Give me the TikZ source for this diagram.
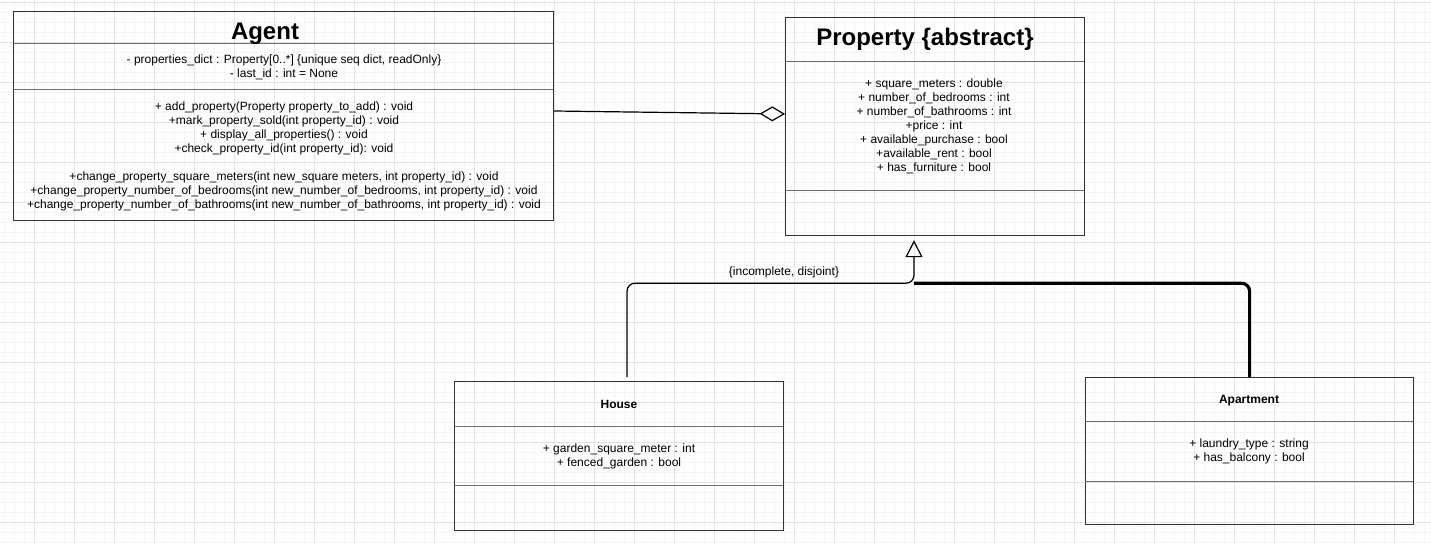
\documentclass[tikz,border=0pt]{standalone}
\usepackage{fontspec}
\setmainfont{Liberation Sans}
\usetikzlibrary{arrows.meta,calc}
\definecolor{gmaj}{HTML}{E3E3E3}
\definecolor{gmin}{HTML}{F5F5F5}
\definecolor{boxc}{HTML}{333333}
\definecolor{divc}{HTML}{6E6E6E}
\begin{document}
\begin{tikzpicture}[x=0.75pt,y=-0.75pt,
  umlbox/.style={draw=boxc, line width=0.9pt, inner sep=0pt, anchor=north west},
  divline/.style={draw=divc, line width=0.75pt},
  txt/.style={font=\fontsize{9pt}{10.5pt}\selectfont, inner sep=0pt, anchor=base},
  bigtitle/.style={font=\fontsize{18pt}{21pt}\selectfont\bfseries, inner sep=0pt, anchor=base},
  smalltitle/.style={font=\fontsize{9pt}{10.5pt}\selectfont\bfseries, inner sep=0pt, anchor=base},
  conn/.style={draw=black, line width=0.9pt}
]
\useasboundingbox (0,0) rectangle (1431,543);
\fill[white] (0,0) rectangle (1431,543);
% grid
\foreach \x in {4,14,...,1430} \draw[gmin, line width=0.75pt] (\x,0) -- (\x,543);
\foreach \y in {2,12,...,542} \draw[gmin, line width=0.75pt] (0,\y) -- (1431,\y);
\foreach \x in {34,74,...,1430} \draw[gmaj, line width=0.75pt] (\x,0) -- (\x,543);
\foreach \y in {2,42,...,542} \draw[gmaj, line width=0.75pt] (0,\y) -- (1431,\y);

% boxes
\node[umlbox, minimum width=405pt, minimum height=156.75pt] (agent) at (13,11) {};
\node[umlbox, minimum width=224.25pt, minimum height=163.5pt] (property) at (785,17) {};
\node[umlbox, minimum width=246.75pt, minimum height=111.75pt] (house) at (454,381) {};
\node[umlbox, minimum width=246pt, minimum height=110.25pt] (apartment) at (1085,377) {};

% dividers
\draw[divline] (13,43) -- (553,43);
\draw[divline] (13,89) -- (553,89);
\draw[divline] (785,61) -- (1084,61);
\draw[divline] (785,190) -- (1084,190);
\draw[divline] (454,426) -- (783,426);
\draw[divline] (454,485) -- (783,485);
\draw[divline] (1085,421) -- (1413,421);
\draw[divline] (1085,481) -- (1413,481);

% titles
\node[bigtitle] (agentT) at (265,39) {Agent};
\node[bigtitle] (propT) at (925,45) {Property \{abstract\}};
\node[smalltitle] (houseT) at (619,408) {House};
\node[smalltitle] (aptT) at (1249,403) {Apartment};

% Agent attributes
\node[txt] (aa1) at (284,63.5) {- properties\_dict : Property[0..*] \{unique seq dict, readOnly\}};
\node[txt] (aa2) at (284,77) {- last\_id : int = None};
% Agent methods
\node[txt] (am1) at (284,110) {+ add\_property(Property property\_to\_add) : void};
\node[txt] (am2) at (284,124) {+mark\_property\_sold(int property\_id) : void};
\node[txt] (am3) at (284,138) {+ display\_all\_properties() : void};
\node[txt] (am4) at (284,152) {+check\_property\_id(int property\_id): void};
\node[txt] (am5) at (284,180) {+change\_property\_square\_meters(int new\_square meters, int property\_id) : void};
\node[txt] (am6) at (284,194) {+change\_property\_number\_of\_bedrooms(int new\_number\_of\_bedrooms, int property\_id) : void};
\node[txt] (am7) at (284,208) {+change\_property\_number\_of\_bathrooms(int new\_number\_of\_bathrooms, int property\_id) : void};

% Property attributes
\node[txt] (pa1) at (934,87.5) {+ square\_meters : double};
\node[txt] (pa2) at (934,101.5) {+ number\_of\_bedrooms : int};
\node[txt] (pa3) at (934,115.5) {+ number\_of\_bathrooms : int};
\node[txt] (pa4) at (934,129.5) {+price : int};
\node[txt] (pa5) at (934,143.5) {+ available\_purchase : bool};
\node[txt] (pa6) at (934,157.5) {+available\_rent : bool};
\node[txt] (pa7) at (934,171.5) {+ has\_furniture : bool};

% House attributes
\node[txt] (ha1) at (619,452.7) {+ garden\_square\_meter : int};
\node[txt] (ha2) at (619,466.7) {+ fenced\_garden : bool};

% Apartment attributes
\node[txt] (ap1) at (1249,447.7) {+ laundry\_type : string};
\node[txt] (ap2) at (1249,461.7) {+ has\_balcony : bool};

% aggregation
\coordinate (aggS) at ($(agent.north east)+(0,100)$);
\coordinate (aggE) at ($(property.north west)+(0,97)$);
\draw[conn, -{Diamond[open, length=19pt, width=11.25pt]}] (aggS) -- (aggE);

% generalization
\coordinate (hs) at ($(house.north west)+(173,-4)$);
\coordinate (jn) at ($(property.south west)+(129,47)$);
\coordinate (tip) at ($(property.south west)+(129,4)$);
\draw[conn, rounded corners=6pt, -{Triangle[open, length=12.75pt, width=12.75pt]}] (hs) -- (hs |- jn) -- (jn) -- (tip);
\draw[draw=black, line width=2.4pt, rounded corners=6pt] (apartment.north) -- (apartment.north |- jn) -- (jn);
\node[txt] (lbl) at (784,275.5) {\{incomplete, disjoint\}};
\end{tikzpicture}
\end{document}
